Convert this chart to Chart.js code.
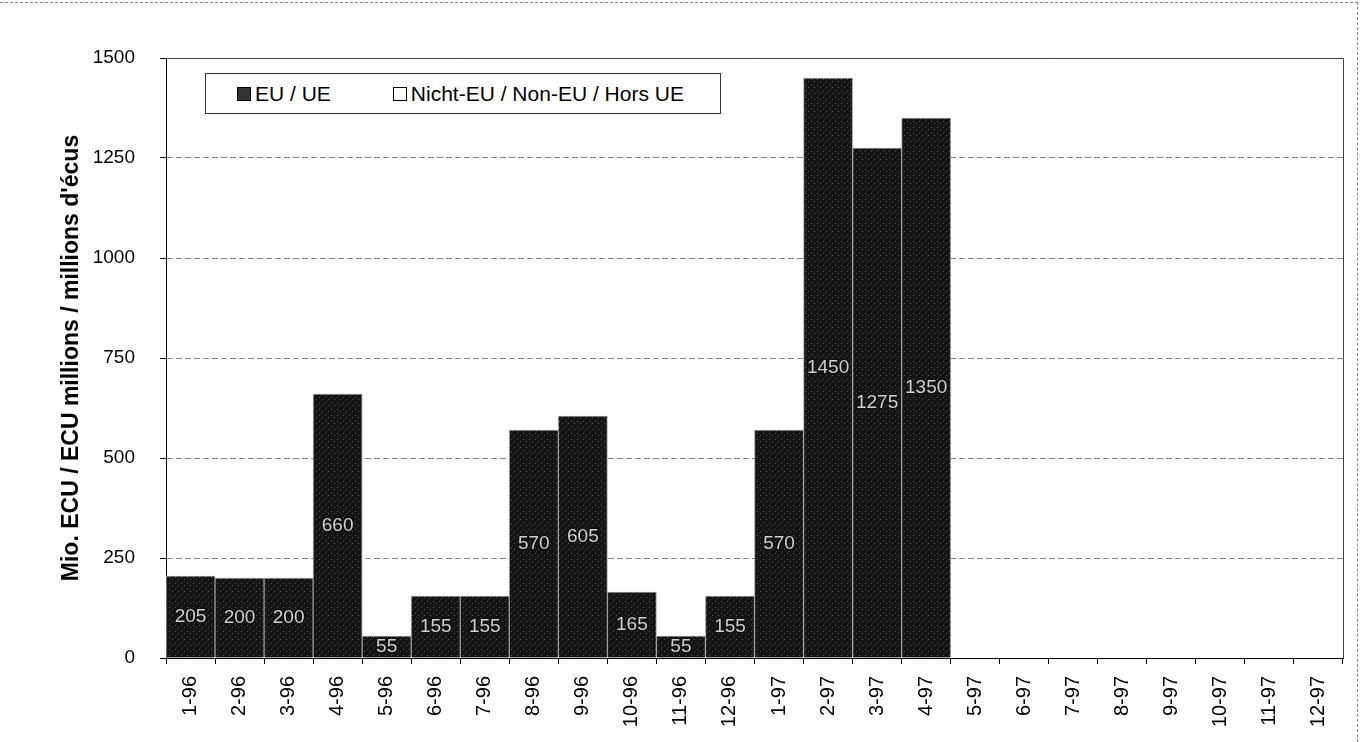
<!DOCTYPE html>
<html>
<head>
<meta charset="utf-8">
<script src="https://cdn.jsdelivr.net/npm/chart.js@4/dist/chart.umd.min.js"></script>
<style>
  html, body { margin: 0; padding: 0; background: #fff; }
  #wrap { position: relative; width: 1362px; height: 742px; }
  #frame { position: absolute; left: 0; top: 2px; width: 1357px; height: 739px;
           border-top: 1px dashed #888; border-right: 1px dashed #888; pointer-events: none; }
  #legend { position: absolute; left: 205px; top: 73px; width: 514px; height: 39px;
            border: 1px solid #333; background: #fff; font: 21px "Liberation Sans", Arial, sans-serif;
            display: flex; align-items: center; }
  .item { display: flex; align-items: center; }
  .sw { width: 12px; height: 12px; border: 1px solid #000; margin-right: 4px; }
</style>
</head>
<body>
<div id="wrap">
  <canvas id="c" width="1362" height="742"></canvas>
  <div id="frame"></div>
  <div id="legend">
    <div class="item" style="margin-left:31px"><span class="sw" style="background:#333"></span>EU / UE</div>
    <div class="item" style="margin-left:62px"><span class="sw" style="background:#fff"></span>Nicht-EU / Non-EU / Hors UE</div>
  </div>
</div>
<script>
const months = ['1-96','2-96','3-96','4-96','5-96','6-96','7-96','8-96','9-96','10-96','11-96','12-96',
                '1-97','2-97','3-97','4-97','5-97','6-97','7-97','8-97','9-97','10-97','11-97','12-97'];
const euValues = [205, 200, 200, 660, 55, 155, 155, 570, 605, 165, 55, 155, 570, 1450, 1275, 1350,
                  null, null, null, null, null, null, null, null];
const nonEuValues = [0, 0, 0, 0, 0, 0, 0, 0, 0, 0, 0, 0, 0, 0, 0, 0,
                     null, null, null, null, null, null, null, null];
const yTicks = [0, 250, 500, 750, 1000, 1250, 1500];

const FONT = '"Liberation Sans", Arial, sans-serif';

// dark stipple fill like the scanned bars
function stipple() {
  const p = document.createElement('canvas');
  p.width = 6; p.height = 6;
  const g = p.getContext('2d');
  g.fillStyle = '#141414'; g.fillRect(0, 0, 6, 6);
  g.fillStyle = '#555'; g.fillRect(1, 1, 1, 1); g.fillRect(4, 3, 1, 1);
  g.fillStyle = '#333'; g.fillRect(2, 5, 1, 1);
  return g.createPattern(p, 'repeat');
}

const frame = {
  id: 'frame',
  afterDraw(chart) {
    const { ctx, chartArea: a } = chart;
    ctx.save();
    ctx.strokeStyle = '#444'; ctx.lineWidth = 1;
    ctx.beginPath();
    ctx.moveTo(a.left, a.top + 0.5); ctx.lineTo(a.right + 0.5, a.top + 0.5); ctx.lineTo(a.right + 0.5, a.bottom);
    ctx.stroke();
    ctx.restore();
  }
};

const valueLabels = {
  id: 'valueLabels',
  afterDatasetsDraw(chart) {
    const { ctx } = chart;
    const meta = chart.getDatasetMeta(0);
    ctx.save();
    ctx.font = '19px ' + FONT;
    ctx.textAlign = 'center'; ctx.textBaseline = 'middle';
    ctx.lineWidth = 3; ctx.strokeStyle = '#111'; ctx.fillStyle = '#cfcfcf';
    meta.data.forEach((bar, i) => {
      const v = euValues[i];
      if (v == null) return;
      const y = (bar.y + bar.base) / 2;
      ctx.strokeText(String(v), bar.x, y);
      ctx.fillText(String(v), bar.x, y);
    });
    ctx.restore();
  }
};

new Chart(document.getElementById('c'), {
  type: 'bar',
  data: {
    labels: months,
    datasets: [
      { label: 'EU / UE', data: euValues, backgroundColor: stipple(), borderColor: '#9a9a9a', borderWidth: 1,
        barPercentage: 1, categoryPercentage: 1 },
      { label: 'Nicht-EU / Non-EU / Hors UE', data: nonEuValues, backgroundColor: '#fff', borderWidth: 0,
        barPercentage: 1, categoryPercentage: 1 }
    ]
  },
  options: {
    responsive: false,
    animation: false,
    layout: { padding: { left: 55, top: 58, right: 19, bottom: 0 } },
    plugins: { legend: { display: false }, tooltip: { enabled: false } },
    scales: {
      x: {
        stacked: true,
        afterFit: s => { s.height = 84; },
        grid: { drawOnChartArea: false, tickLength: 6, color: '#000', offset: true },
        border: { color: '#000', width: 1 },
        ticks: { color: '#000', font: { size: 20, family: FONT },
                 minRotation: 90, maxRotation: 90, autoSkip: false, padding: 12 }
      },
      y: {
        stacked: true,
        min: 0, max: 1500,
        afterFit: s => { s.width = 111; },
        afterBuildTicks: s => { s.ticks = yTicks.map(v => ({ value: v })); },
        grid: { color: '#888', tickColor: '#000', tickLength: 6 },
        border: { color: '#000', width: 1, dash: [6, 3] },
        ticks: { color: '#000', font: { size: 19, family: FONT }, padding: 25, callback: v => String(v) },
        title: { display: true, text: "Mio. ECU / ECU millions / millions d'écus", color: '#000',
                 font: { size: 23, weight: 'bold', family: FONT }, padding: { top: 3, bottom: 4 } }
      }
    }
  },
  plugins: [frame, valueLabels]
});
</script>
</body>
</html>
